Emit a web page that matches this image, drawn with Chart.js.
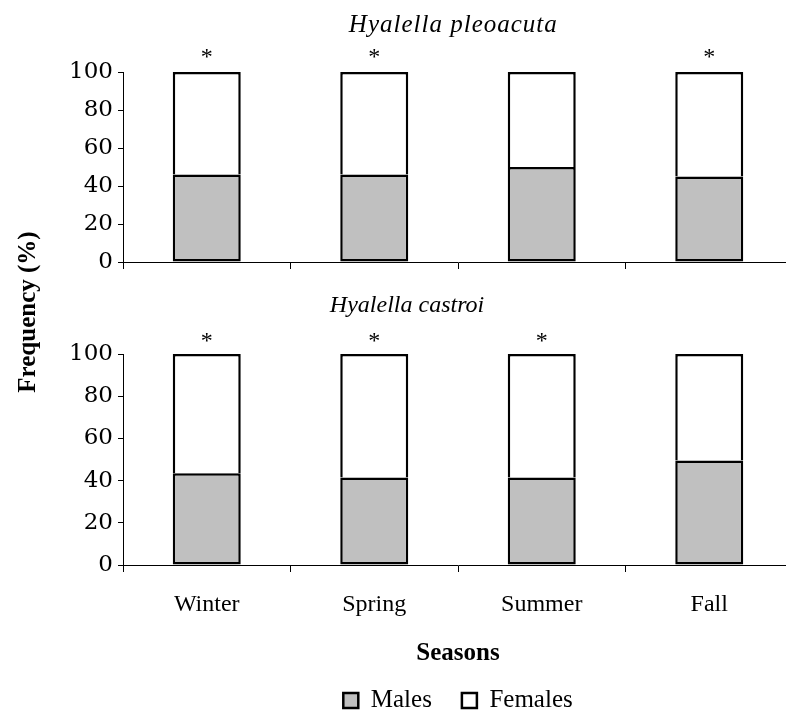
<!DOCTYPE html>
<html>
<head>
<meta charset="utf-8">
<script src="https://cdn.jsdelivr.net/npm/chart.js@4.4.1/dist/chart.umd.min.js"></script>
<style>
  html, body { margin: 0; padding: 0; background: #fff; overflow: hidden; }
  .panel { position: absolute; left: 0; top: 0; width: 800px; height: 723px; }
</style>
</head>
<body>
<div class="panel"><canvas id="top"></canvas></div>
<div class="panel"><canvas id="bottom"></canvas></div>
<script>
var seasons = ["Winter", "Spring", "Summer", "Fall"];
var yTicks = [0, 20, 40, 60, 80, 100];

var pleoacutaMales = [46, 46, 50, 45];
var pleoacutaFemales = [54, 54, 50, 55];
var pleoacutaMarks = ["*", "*", "", "*"];

var castroiMales = [43.5, 41.5, 41.5, 49.5];
var castroiFemales = [56.5, 58.5, 58.5, 50.5];
var castroiMarks = ["*", "*", "*", ""];

var serif = '"Liberation Serif", "Times New Roman", serif';

// panel title, asterisks and the shared y title
var panelText = {
  id: 'panelText',
  afterDraw: function (chart, args, opts) {
    var ctx = chart.ctx, area = chart.chartArea;
    var x = chart.scales.x, y = chart.scales.y;
    var top = y.getPixelForValue(100);
    ctx.save();
    ctx.fillStyle = '#000';
    ctx.textAlign = 'center';
    ctx.textBaseline = 'alphabetic';
    ctx.font = opts.titleFont;
    ctx.letterSpacing = opts.titleSpacing;
    ctx.fillText(opts.title, area.left + area.width * opts.titleX, top - opts.titleGap);
    ctx.letterSpacing = '0px';
    ctx.font = '24px ' + serif;
    opts.marks.forEach(function (m, i) {
      if (m) ctx.fillText(m, x.getPixelForValue(i), top - opts.markGap);
    });
    if (opts.yTitle) {
      ctx.translate(29, 312);
      ctx.rotate(-Math.PI / 2);
      ctx.textBaseline = 'middle';
      ctx.font = 'bold 25px ' + serif;
      ctx.fillText(opts.yTitle, 0, 0);
    }
    ctx.restore();
  }
};

function makePanel(id, males, females, marks, text, bottom) {
  var ctx = document.getElementById(id).getContext('2d');
  return new Chart(ctx, {
    type: 'bar',
    data: {
      labels: seasons,
      datasets: [{
        label: 'Males',
        data: males,
        backgroundColor: '#c0c0c0',
        borderColor: '#000',
        borderWidth: 2.5,
        borderSkipped: false,
        barPercentage: 0.406,
        categoryPercentage: 1
      }, {
        label: 'Females',
        data: females,
        backgroundColor: '#fff',
        borderColor: '#000',
        borderWidth: 2.5,
        borderSkipped: 'bottom',
        barPercentage: 0.406,
        categoryPercentage: 1
      }]
    },
    plugins: [panelText],
    options: {
      responsive: true,
      maintainAspectRatio: false,
      animation: false,
      layout: {
        padding: bottom ? { top: 354, right: 7, bottom: 0, left: 0 }
                        : { top: 72, right: 7, bottom: 451, left: 0 }
      },
      plugins: {
        tooltip: { enabled: false },
        legend: {
          display: bottom,
          position: 'bottom',
          fullSize: false,
          labels: {
            color: '#000',
            boxWidth: 15,
            boxHeight: 15,
            padding: 30,
            font: { family: serif, size: 25 }
          }
        },
        panelText: {
          title: text.title,
          titleFont: text.font,
          titleSpacing: text.spacing,
          titleX: text.x,
          titleGap: text.gap,
          markGap: text.markGap,
          marks: marks,
          yTitle: text.yTitle
        }
      },
      scales: {
        x: {
          stacked: true,
          afterFit: function (s) { s.height = bottom ? 93 : 10; },
          grid: { drawOnChartArea: false, tickLength: 7, color: '#000', tickColor: '#000' },
          border: { color: '#000', width: 1 },
          ticks: { display: bottom, color: '#000', padding: 18, font: { family: serif, size: 24 } },
          title: {
            display: bottom,
            text: 'Seasons',
            color: '#000',
            padding: { top: 0, bottom: -8 },
            font: { family: serif, size: 25, weight: 'bold', lineHeight: 1 }
          }
        },
        y: {
          stacked: true,
          min: 0,
          max: 100,
          afterFit: function (s) { s.width = 123; },
          afterBuildTicks: function (s) { s.ticks = yTicks.map(function (v) { return { value: v }; }); },
          grid: { drawOnChartArea: false, tickLength: 5, color: '#000', tickColor: '#000' },
          border: { color: '#000', width: 1 },
          ticks: { color: '#000', padding: 5, font: { family: '"DejaVu Serif", serif', size: 23 } }
        }
      }
    }
  });
}

makePanel('top', pleoacutaMales, pleoacutaFemales, pleoacutaMarks, {
  title: 'Hyalella pleoacuta', font: 'italic 25px ' + serif, spacing: '1px',
  x: 0.493, gap: 40, markGap: 8
}, false);

makePanel('bottom', castroiMales, castroiFemales, castroiMarks, {
  title: 'Hyalella castroi', font: 'italic 24px ' + serif, spacing: '0px',
  x: 0.424, gap: 42, markGap: 6, yTitle: 'Frequency (%)'
}, true);
</script>
</body>
</html>
